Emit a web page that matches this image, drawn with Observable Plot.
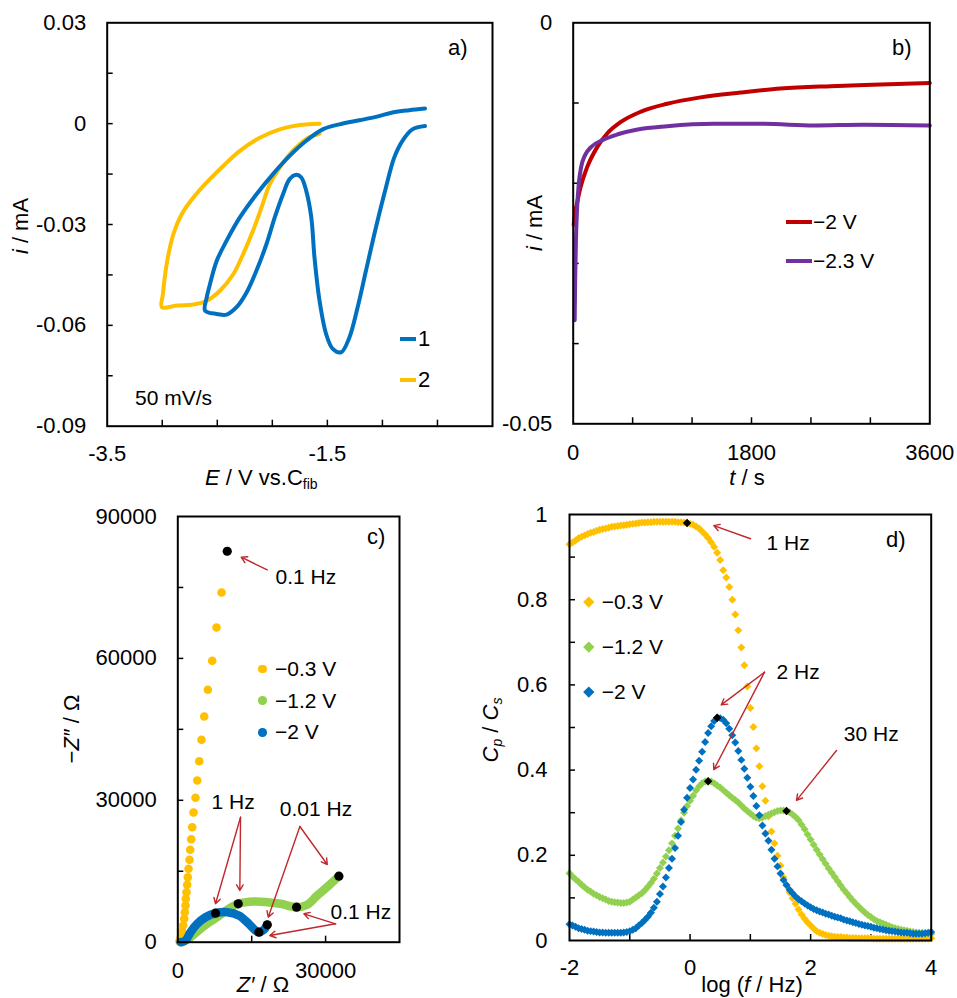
<!DOCTYPE html>
<html><head><meta charset="utf-8">
<script src="https://cdn.jsdelivr.net/npm/d3@7"></script>
<script src="https://cdn.jsdelivr.net/npm/@observablehq/plot@0.6"></script>
<style>
body{margin:0;background:#fff;}
#wrap{position:relative;width:957px;height:998px;overflow:hidden;background:#fff;font-family:"Liberation Sans",Arial,sans-serif;color:#000;}
.pl{position:absolute;}
.t{position:absolute;font-size:22px;line-height:22px;white-space:nowrap;}
.rot{transform:translate(-50%,-50%) rotate(-90deg);}
.mid{transform:translate(-50%,0);}
.lv{transform:translateY(-50%);}
sub{font-size:14px;vertical-align:-4px;line-height:0;}
</style></head><body><div id="wrap"></div>
<script>
// ---------- Panel a: cyclic voltammetry (E / V, i / mA) ----------
const cyc1E = [-0.613,-0.728,-0.818,-0.893,-0.968,-1.059,-1.149,-1.225,-1.30,-1.375,-1.451,-1.511,-1.571,-1.617,-1.646,-1.692,-1.737,-1.782,-1.843,-1.903,-1.978,-2.053,-2.144,-2.234,-2.325,-2.415,-2.505,-2.611,-2.596,-2.566,-2.505,-2.415,-2.295,-2.144,-1.994,-1.843,-1.692,-1.542,-1.39,-1.21,-1.059,-0.909,-0.758,-0.613];
const cyc1I = [-0.0007,-0.0017,-0.0051,-0.0101,-0.019,-0.0309,-0.0437,-0.0546,-0.0636,-0.068,-0.067,-0.0626,-0.0527,-0.0398,-0.0279,-0.020,-0.016,-0.0152,-0.0165,-0.021,-0.0279,-0.0358,-0.0437,-0.0502,-0.0546,-0.0568,-0.0566,-0.0556,-0.0517,-0.0477,-0.0408,-0.0348,-0.0279,-0.021,-0.015,-0.0096,-0.0051,-0.0017,-0.0002,0.001,0.002,0.0033,0.004,0.0045];
const cyc2E = [-1.571,-1.662,-1.752,-1.843,-1.933,-2.023,-2.099,-2.175,-2.265,-2.355,-2.476,-2.596,-2.717,-2.867,-3.003,-2.994,-2.973,-2.943,-2.898,-2.822,-2.717,-2.596,-2.446,-2.295,-2.114,-1.933,-1.752,-1.571];
const cyc2I = [-0.003,-0.004,-0.0061,-0.0091,-0.0131,-0.018,-0.025,-0.0318,-0.0388,-0.0448,-0.0497,-0.0527,-0.0538,-0.0541,-0.0546,-0.0507,-0.0447,-0.0388,-0.0328,-0.0269,-0.022,-0.0175,-0.0126,-0.0081,-0.0042,-0.0017,-0.0004,0];
const aXLabels = [-3.5,-1.5], aXMinor = [-3,-2.5,-2,-1.5,-1,-0.5];
const aYLabels = [0.03,0,-0.03,-0.06,-0.09], aYMinor = [0.015,0,-0.015,-0.03,-0.045,-0.06,-0.075];

// ---------- Panel b: chronoamperometry (t / s, i / mA) ----------
const b2T = [5,20,40,74,141,242,343,477,679,949,1285,1689,2093,2598,3103,3600];
const b2I = [-0.0252,-0.0236,-0.0224,-0.0205,-0.0180,-0.0155,-0.0138,-0.0124,-0.0111,-0.0101,-0.0093,-0.0087,-0.0082,-0.0079,-0.0077,-0.0075];
const b23T = [15,20,28,40,57,80,120,180,300,450,650,949,1420,1925,2429,2934,3600];
const b23I = [-0.0371,-0.032,-0.027,-0.023,-0.0200,-0.0180,-0.0165,-0.0155,-0.0146,-0.0139,-0.0133,-0.0129,-0.0126,-0.0126,-0.0128,-0.0127,-0.0128];
const bXLabels = [0,1800,3600], bXMinor = [600,1200,1800,2400,3000];
const bYLabels = [0,-0.05], bYMinor = [-0.01,-0.02,-0.03,-0.04];

// ---------- Panel c: Nyquist (Z' / Ω, -Z'' / Ω) ----------
const c03Re = [10033,8876,7860,6987,6093,5362,4813,4346,3940,3595,3189,2925,2721,2518,2376,2173,2031,1909,1767,1625,1564,1422,1300,1097,894,609,345];
const c03Im = [82657,73927,66527,59487,53357,47712,42787,38263,34184,30526,27413,24311,21774,19533,17419,15517,13741,12135,10570,9175,7759,6342,4947,3530,2325,1057,211];
const c12Re = [894,2579,4610,5971,7657,10033,12267,15436,18157,20859,24108,26281,28312,30668,32699];
const c12Im = [0,1057,2833,3890,5074,6849,8118,8604,8456,8118,7399,7906,9872,11986,13952];
const c20Re = [548,1564,2579,3940,5626,7657,10033,12389,14420,15781,16451,17467,18157];
const c20Im = [0,359,2114,3890,5285,6131,6342,5644,3890,2473,2114,2621,3678];
const cMarkRe = [10033,12267,24108,32699,7657,16451,18157];
const cMarkIm = [82657,8118,7399,13952,6131,2114,3678];
const cNoteText = ["0.1 Hz","1 Hz","0.01 Hz","0.1 Hz"];
const cNoteRe = [19843,6844,20716,31013];
const cNoteIm = [77098,29596,28201,6342];
const cArrowFrom = [[18157,78725],[12734,26425],[12734,26425],[24778,24459],[24778,24459],[32029,3890],[32029,3890]];
const cArrowTo = [[12877,81388],[7657,8118],[12592,10929],[30343,16426],[18360,5285],[25591,6004],[18685,1416]];
const cXLabels = [0,30000], cXMinor = [15000,30000];
const cYLabels = [0,30000,60000,90000], cYMinor = [15000,30000,45000,60000,75000];

// ---------- Panel d: Cp/Cs vs log f ----------
const dLogF = d3.range(121).map(k => Math.round((-2 + k * 0.05) * 100) / 100);
const d03 = [0.930,0.934,0.939,0.944,0.948,0.951,0.954,0.957,0.959,0.962,0.964,0.966,0.967,0.969,0.971,0.972,0.973,0.974,0.975,0.976,
 0.977,0.978,0.979,0.980,0.981,0.981,0.982,0.982,0.983,0.983,0.983,0.983,0.983,0.983,0.983,0.983,0.982,0.982,0.981,0.980,
 0.978,0.976,0.972,0.967,0.960,0.953,0.945,0.935,0.924,0.910,0.893,0.869,0.852,0.830,0.800,0.765,0.728,0.688,0.646,0.596,
 0.546,0.501,0.451,0.409,0.362,0.328,0.291,0.256,0.228,0.199,0.176,0.148,0.129,0.113,0.099,0.086,0.073,0.061,0.051,0.042,
 0.035,0.028,0.022,0.018,0.015,0.013,0.011,0.010,0.009,0.008,0.008,0.007,0.007,0.006,0.006,0.006,0.005,0.005,0.005,0.005,
 0.005,0.004,0.004,0.004,0.004,0.004,0.004,0.004,0.004,0.004,0.004,0.004,0.004,0.004,0.004,0.004,0.004,0.004,0.004,0.004,0.005];
const d12 = [0.158,0.150,0.144,0.138,0.131,0.125,0.119,0.115,0.110,0.106,0.102,0.099,0.096,0.093,0.091,0.090,0.089,0.088,0.088,0.089,
 0.091,0.096,0.101,0.106,0.111,0.118,0.126,0.135,0.145,0.157,0.170,0.183,0.197,0.212,0.228,0.246,0.263,0.282,0.300,0.316,
 0.328,0.340,0.352,0.362,0.369,0.373,0.374,0.373,0.369,0.364,0.359,0.353,0.347,0.341,0.335,0.330,0.324,0.317,0.310,0.304,
 0.298,0.292,0.288,0.287,0.289,0.292,0.295,0.298,0.301,0.304,0.305,0.305,0.304,0.301,0.296,0.290,0.282,0.272,0.261,0.249,
 0.237,0.225,0.213,0.202,0.191,0.180,0.169,0.159,0.149,0.139,0.129,0.119,0.111,0.102,0.094,0.086,0.079,0.072,0.066,0.060,
 0.055,0.050,0.046,0.043,0.040,0.037,0.034,0.031,0.029,0.027,0.025,0.024,0.023,0.021,0.020,0.019,0.018,0.018,0.017,0.017,0.016];
const d20 = [0.038,0.035,0.032,0.029,0.027,0.025,0.023,0.022,0.021,0.020,0.019,0.019,0.018,0.018,0.018,0.018,0.018,0.018,0.019,0.020,
 0.022,0.025,0.029,0.035,0.041,0.048,0.056,0.065,0.077,0.091,0.109,0.127,0.148,0.170,0.192,0.217,0.246,0.278,0.307,0.335,
 0.358,0.378,0.401,0.422,0.443,0.466,0.487,0.503,0.515,0.523,0.522,0.518,0.510,0.497,0.482,0.465,0.445,0.424,0.403,0.382,
 0.361,0.339,0.316,0.294,0.270,0.251,0.234,0.213,0.192,0.174,0.157,0.142,0.130,0.119,0.111,0.103,0.097,0.092,0.087,0.082,
 0.078,0.074,0.071,0.068,0.066,0.063,0.061,0.058,0.056,0.054,0.052,0.049,0.047,0.045,0.043,0.041,0.039,0.037,0.035,0.034,
 0.032,0.030,0.029,0.027,0.026,0.024,0.023,0.022,0.021,0.020,0.019,0.018,0.018,0.017,0.016,0.016,0.016,0.016,0.017,0.018,0.020];
const dMarkX = [-0.05,0.45,0.30,1.60];
const dMarkY = [0.980,0.523,0.374,0.304];
const dNoteText = ["1 Hz","2 Hz","30 Hz"];
const dNoteX = [1.268,1.434,2.55];
const dNoteY = [0.933,0.630,0.485];
const dArrowFrom = [[1.003,0.943],[1.235,0.630],[1.235,0.630],[2.429,0.446]];
const dArrowTo = [[0.394,0.974],[0.517,0.553],[0.394,0.401],[1.766,0.329]];
const dXLabels = [-2,0,2,4], dXMinor = [-1,0,1,2,3];
const dYLabels = [0,0.2,0.4,0.6,0.8,1], dYMinor = [0.1,0.2,0.3,0.4,0.5,0.6,0.7,0.8,0.9];

// colours
const BLUE = "#0070C0", YELLOW = "#FFC000", GREEN = "#92D050", RED = "#C00000", PURPLE = "#7030A0", ARROW = "#C0282D";

// ---------- helpers ----------
const zip = (xs, ys) => xs.map((x, k) => ({x, y: ys[k]}));
const fmt = d => String(d);
const FONT = '"Liberation Sans", Arial, sans-serif';
const wrap = document.getElementById("wrap");

function panel({left, top, w, h, ml, mt, mr, mb, xd, yd, xLab, yLab, xMin, yMin, xPad, yPad, marks}) {
  const pw = w - ml - mr, ph = h - mt - mb;
  const svg = Plot.plot({
    width: w, height: h, marginLeft: ml, marginTop: mt, marginRight: mr, marginBottom: mb,
    x: {domain: xd, label: null}, y: {domain: yd, label: null},
    style: {fontFamily: FONT, fontSize: "22px", color: "#000", background: "transparent", overflow: "visible"},
    marks: [
      Plot.tickY(yMin, {y: d => d, insetRight: pw - 6, stroke: "#000", strokeWidth: 1.5}),
      Plot.tickX(xMin, {x: d => d, insetTop: ph - 6, stroke: "#000", strokeWidth: 1.5}),
      Plot.axisY(yLab, {tickSize: 0, tickPadding: yPad, tickFormat: fmt, fontSize: 22, label: null}),
      Plot.axisX(xLab, {tickSize: 0, tickPadding: xPad, tickFormat: fmt, fontSize: 22, label: null}),
      ...marks,
      Plot.frame({stroke: "#000", strokeWidth: 2})
    ]
  });
  const div = document.createElement("div");
  div.className = "pl";
  div.style.left = left + "px"; div.style.top = top + "px";
  div.appendChild(svg);
  wrap.appendChild(div);
}
function txt(html, left, top, cls = "", size) {
  const el = document.createElement("div");
  el.className = "t " + cls;
  el.innerHTML = html;
  el.style.left = left + "px"; el.style.top = top + "px";
  if (size) el.style.fontSize = size + "px";
  wrap.appendChild(el);
}
function swatch(left, top, w, h, color, extra = "") {
  const el = document.createElement("div");
  el.style.cssText = `position:absolute;left:${left}px;top:${top}px;width:${w}px;height:${h}px;background:${color};${extra}`;
  wrap.appendChild(el);
}

// ---------- Panel a ----------
panel({left: 0, top: 0, w: 495, h: 490, ml: 106.7, mt: 22.3, mr: 3, mb: 64.3,
  xd: [-3.5, 0], yd: [-0.09, 0.03], xLab: aXLabels, yLab: aYLabels, xMin: aXMinor, yMin: aYMinor, xPad: 19, yPad: 21,
  marks: [
    Plot.line(zip(cyc2E, cyc2I), {x: "x", y: "y", stroke: YELLOW, strokeWidth: 4, curve: "catmull-rom"}),
    Plot.line(zip(cyc1E, cyc1I), {x: "x", y: "y", stroke: BLUE, strokeWidth: 4, curve: "catmull-rom"})
  ]});

// ---------- Panel b ----------
panel({left: 495, top: 0, w: 462, h: 490, ml: 77.7, mt: 22.3, mr: 27.7, mb: 66.7,
  xd: [0, 3600], yd: [-0.05, 0], xLab: bXLabels, yLab: bYLabels, xMin: bXMinor, yMin: bYMinor, xPad: 21, yPad: 21,
  marks: [
    Plot.line(zip(b2T, b2I), {x: "x", y: "y", stroke: RED, strokeWidth: 4, curve: "monotone-x"}),
    Plot.line(zip(b23T, b23I), {x: "x", y: "y", stroke: PURPLE, strokeWidth: 4, curve: "monotone-x"})
  ]});

// ---------- Panel c ----------
const cArrows = cArrowFrom.map((f, k) => ({x1: f[0], y1: f[1], x2: cArrowTo[k][0], y2: cArrowTo[k][1]}));
const cNotes = cNoteText.map((t, k) => ({text: t, x: cNoteRe[k], y: cNoteIm[k]}));
panel({left: 0, top: 490, w: 480, h: 508, ml: 177.3, mt: 26, mr: 81, mb: 56.3,
  xd: [0, 45000], yd: [0, 90000], xLab: cXLabels, yLab: cYLabels, xMin: cXMinor, yMin: cYMinor, xPad: 20, yPad: 21,
  marks: [
    Plot.dot(zip(c03Re, c03Im), {x: "x", y: "y", r: 4.3, fill: YELLOW}),
    Plot.line(zip(c12Re, c12Im), {x: "x", y: "y", stroke: GREEN, strokeWidth: 8.5, curve: "catmull-rom"}),
    Plot.line(zip(c20Re, c20Im), {x: "x", y: "y", stroke: BLUE, strokeWidth: 8.5, curve: "catmull-rom"}),
    Plot.dot(zip(cMarkRe, cMarkIm), {x: "x", y: "y", r: 4.6, fill: "#000"}),
    Plot.arrow(cArrows, {x1: "x1", y1: "y1", x2: "x2", y2: "y2", stroke: ARROW, strokeWidth: 1.4, headLength: 7}),
    Plot.text(cNotes, {x: "x", y: "y", text: "text", textAnchor: "start", fontSize: 21, fill: "#000"})
  ]});

// ---------- Panel d ----------
const dArrows = dArrowFrom.map((f, k) => ({x1: f[0], y1: f[1], x2: dArrowTo[k][0], y2: dArrowTo[k][1]}));
const dNotes = dNoteText.map((t, k) => ({text: t, x: dNoteX[k], y: dNoteY[k]}));
panel({left: 480, top: 490, w: 477, h: 508, ml: 89, mt: 24, mr: 26.3, mb: 58,
  xd: [-2, 4], yd: [0, 1], xLab: dXLabels, yLab: dYLabels, xMin: dXMinor, yMin: dYMinor, xPad: 19, yPad: 22,
  marks: [
    Plot.dot(zip(dLogF, d03), {x: "x", y: "y", symbol: "diamond2", r: 3.6, fill: YELLOW}),
    Plot.dot(zip(dLogF, d12), {x: "x", y: "y", symbol: "diamond2", r: 3.6, fill: GREEN}),
    Plot.dot(zip(dLogF, d20), {x: "x", y: "y", symbol: "diamond2", r: 3.6, fill: BLUE}),
    Plot.dot(zip(dMarkX, dMarkY), {x: "x", y: "y", symbol: "diamond2", r: 3.8, fill: "#000"}),
    Plot.arrow(dArrows, {x1: "x1", y1: "y1", x2: "x2", y2: "y2", stroke: ARROW, strokeWidth: 1.4, headLength: 7}),
    Plot.text(dNotes, {x: "x", y: "y", text: "text", textAnchor: "start", fontSize: 21, fill: "#000"})
  ]});

// ---------- axis titles ----------
txt("<i>E</i> / V vs.C<sub>fib</sub>", 205, 467);
txt("<i>i</i> / mA", 21, 226, "rot");
txt("<i>t</i> / s", 747, 467, "mid");
txt("<i>i</i> / mA", 535, 223, "rot");
txt("<i>Z′</i> / Ω", 263, 974, "mid");
txt("−<i>Z″</i> / Ω", 72, 729, "rot");
txt("log (<i>f</i> / Hz)", 752, 974, "mid");
txt("<i>C<sub>p</sub></i> / <i>C<sub>s</sub></i>", 491, 730, "rot");

// ---------- panel tags & notes ----------
txt("a)", 448, 48, "lv");
txt("b)", 892, 48, "lv");
txt("c)", 367, 537, "lv");
txt("d)", 886, 540, "lv");
txt("50 mV/s", 135, 398, "lv", 21);

// ---------- legends ----------
swatch(400, 337, 16, 4, BLUE);  txt("1", 418, 339, "lv");
swatch(400, 378, 16, 4, YELLOW); txt("2", 418, 380, "lv");
swatch(786, 219.7, 26, 4, RED);    txt("−2 V", 813, 222, "lv", 21);
swatch(786, 259, 26, 4, PURPLE);   txt("−2.3 V", 813, 261, "lv", 21);
const cLeg = [["−0.3 V", YELLOW, 669], ["−1.2 V", GREEN, 700.7], ["−2 V", BLUE, 732.3]];
cLeg.forEach(([t, c, y]) => { swatch(258.4, y - 4.3, 8.6, 8.6, c, "border-radius:50%;"); txt(t, 275, y, "lv", 21); });
const dLeg = [["−0.3 V", YELLOW, 601.7], ["−1.2 V", GREEN, 646.7], ["−2 V", BLUE, 691.7]];
dLeg.forEach(([t, c, y]) => { swatch(584.5, y - 3.8, 7.6, 7.6, c, "transform:rotate(45deg);"); txt(t, 601.7, y, "lv", 21); });
</script></body></html>
